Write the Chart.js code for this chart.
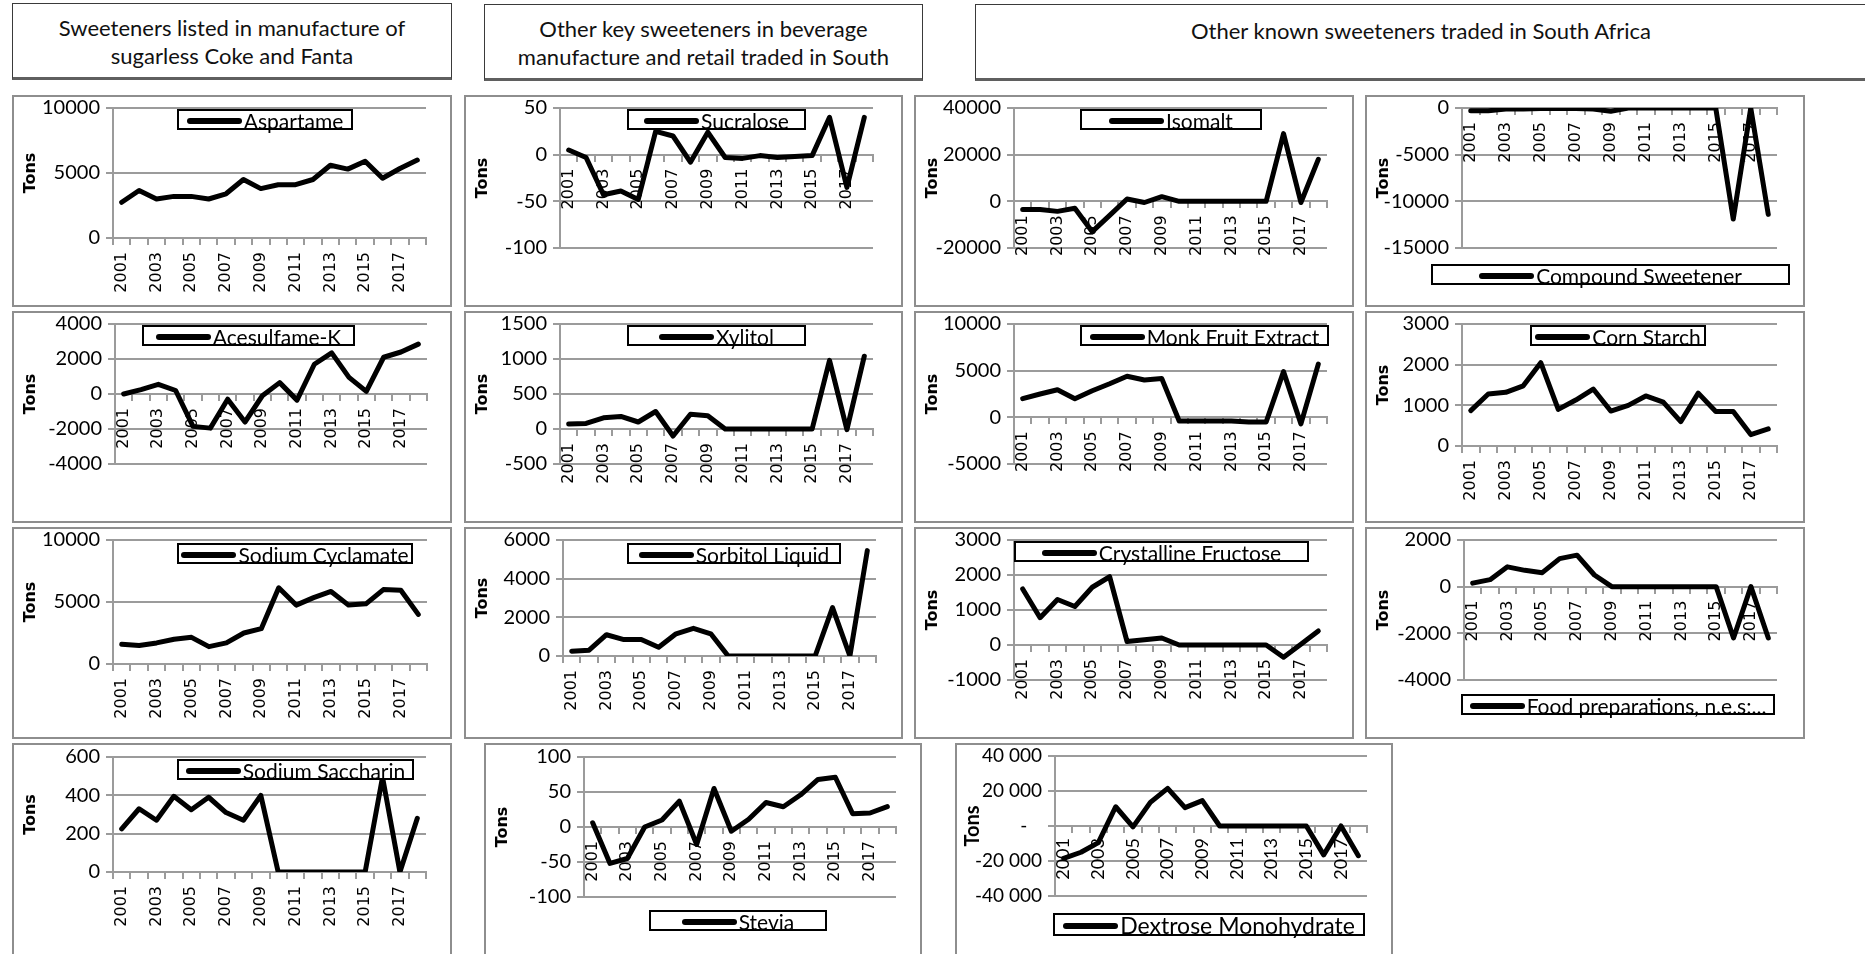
<!DOCTYPE html>
<html>
<head>
<meta charset="utf-8">
<script src="https://cdn.jsdelivr.net/npm/chart.js@4.4.1/dist/chart.umd.min.js"></script>
<style>
  html, body { margin: 0; padding: 0; background: #fff; }
  body { position: relative; width: 1865px; height: 954px; overflow: hidden; font-family: Lato, "Open Sans", sans-serif; }
  .hdr { position: absolute; box-sizing: border-box; background: #fff; border: 1.5px solid #3a3a3a; border-bottom: 3px solid #5f5f5f;
         text-align: center; font: 22px Lato, sans-serif; color: #111; line-height: 28px; padding-top: 10px; white-space: nowrap; overflow: hidden; }
  .panel { position: absolute; }
  .panel canvas { position: absolute; left: 0; top: 0; }
  .frame { position: absolute; box-sizing: border-box; border: 2px solid #8e8e8e; pointer-events: none; }
  .lg { position: absolute; box-sizing: border-box; border: 2px solid #000; background: #fff; display: flex; align-items: center;
        justify-content: center; font: 21px Lato, sans-serif; color: #000; white-space: nowrap; line-height: 17px; }
  .lg.big { font-size: 23px; }
  .lg i { display: inline-block; width: 55px; height: 6px; background: #000; border-radius: 3px; margin: 3px 2px 0 0; flex: none; }
  .lg span { position: relative; top: 1px; }
</style>
</head>
<body>
<div class="hdr" style="left:12px;top:3px;width:440px;height:77px">Sweeteners listed in manufacture of<br>sugarless Coke and Fanta</div>
<div class="hdr" style="left:484px;top:4px;width:439px;height:77px">Other key sweeteners in beverage<br>manufacture and retail traded in South</div>
<div class="hdr" style="left:975px;top:4px;width:892px;height:77px;padding-top:12px">Other known sweeteners traded in South Africa</div>

<script>
// Trade balance per sweetener, 2001-2018, in tons
const YEARS = ['2001','2002','2003','2004','2005','2006','2007','2008','2009',
               '2010','2011','2012','2013','2014','2015','2016','2017','2018'];

const ASPARTAME  = [2750, 3650, 3000, 3200, 3200, 3000, 3400, 4500, 3800, 4100, 4100, 4500, 5600, 5300, 5900, 4600, 5350, 6000];
const SUCRALOSE  = [5, -3, -43, -39, -48, 25, 20, -8, 24, -3, -4, -1, -3, -2, -1, 40, -35, 40];
const ISOMALT    = [-3500, -3500, -4300, -3000, -13000, -6000, 1000, -500, 2000, 0, 0, 0, 0, 0, 0, 29000, -500, 18000];
const COMPOUND   = [-300, -300, -100, -100, -50, -50, -50, -100, -350, 0, 0, 0, 0, 0, 0, -11900, 0, -11400];
const ACESULFAME = [0, 250, 550, 200, -1850, -1950, -300, -1600, -100, 650, -350, 1700, 2350, 950, 150, 2100, 2400, 2850];
const XYLITOL    = [70, 80, 160, 180, 100, 250, -100, 210, 190, 0, 0, 0, 0, 0, 0, 980, -10, 1040];
const MONK_FRUIT = [2000, 2500, 2950, 2000, 2850, 3600, 4400, 4000, 4150, -400, -400, -400, -400, -500, -500, 4900, -700, 5700];
const CORN_STARCH= [870, 1280, 1320, 1480, 2050, 900, 1130, 1400, 860, 1000, 1230, 1080, 600, 1300, 850, 850, 280, 420];
const CYCLAMATE  = [1600, 1500, 1700, 2000, 2150, 1400, 1700, 2500, 2850, 6150, 4750, 5350, 5850, 4750, 4850, 6000, 5950, 4000];
const SORBITOL   = [250, 300, 1100, 850, 850, 450, 1150, 1430, 1150, 0, 0, 0, 0, 0, 0, 2500, 0, 5450];
const FRUCTOSE   = [1600, 780, 1300, 1100, 1650, 1950, 100, 150, 200, 0, 0, 0, 0, 0, 0, -350, 20, 400];
const FOOD_PREP  = [150, 300, 850, 700, 600, 1200, 1350, 500, 0, 0, 0, 0, 0, 0, 0, -2200, 0, -2200];
const SACCHARIN  = [225, 330, 270, 395, 325, 390, 310, 270, 400, 0, 0, 0, 0, 0, 0, 495, 0, 280];
const STEVIA     = [6, -52, -45, 0, 10, 37, -25, 55, -6, 11, 35, 29, 46, 68, 71, 19, 20, 29];
const DEXTROSE   = [-18500, -15000, -9500, 11000, -500, 13500, 21500, 10500, 14500, 0, 0, 0, 0, 0, 0, -16500, 0, -17000];

// Value-axis tick marks for each panel
const TICKS_ASPARTAME  = [0, 5000, 10000];
const TICKS_SUCRALOSE  = [-100, -50, 0, 50];
const TICKS_ISOMALT    = [-20000, 0, 20000, 40000];
const TICKS_COMPOUND   = [-15000, -10000, -5000, 0];
const TICKS_ACESULFAME = [-4000, -2000, 0, 2000, 4000];
const TICKS_XYLITOL    = [-500, 0, 500, 1000, 1500];
const TICKS_MONK       = [-5000, 0, 5000, 10000];
const TICKS_CORN       = [0, 1000, 2000, 3000];
const TICKS_CYCLAMATE  = [0, 5000, 10000];
const TICKS_SORBITOL   = [0, 2000, 4000, 6000];
const TICKS_FRUCTOSE   = [-1000, 0, 1000, 2000, 3000];
const TICKS_FOOD       = [-4000, -2000, 0, 2000];
const TICKS_SACCHARIN  = [0, 200, 400, 600];
const TICKS_STEVIA     = [-100, -50, 0, 50, 100];
const TICKS_DEXTROSE   = [-40000, -20000, 0, 20000, 40000];

// Panel geometry on the page: frame [x, y, w, h], plot area [left, top, right, bottom], legend [x, y, w, h]
const PANELS = [
  { name: 'Aspartame',          data: ASPARTAME,   ticks: TICKS_ASPARTAME,  box: [12, 95, 440, 212],   plot: [113, 108, 426, 238],   legend: [177, 109, 176, 21] },
  { name: 'Sucralose',          data: SUCRALOSE,   ticks: TICKS_SUCRALOSE,  box: [464, 95, 439, 212],  plot: [560, 108, 873, 248],   legend: [627, 109, 179, 21] },
  { name: 'Isomalt',            data: ISOMALT,     ticks: TICKS_ISOMALT,    box: [914, 95, 440, 212],  plot: [1014, 108, 1327, 248], legend: [1080, 109, 182, 21] },
  { name: 'Compound Sweetener', data: COMPOUND,    ticks: TICKS_COMPOUND,   box: [1365, 95, 440, 212], plot: [1462, 108, 1777, 248], legend: [1431, 264, 359, 21] },
  { name: 'Acesulfame-K',       data: ACESULFAME,  ticks: TICKS_ACESULFAME, box: [12, 311, 440, 212],  plot: [115, 324, 427, 464],   legend: [142, 325, 213, 21] },
  { name: 'Xylitol',            data: XYLITOL,     ticks: TICKS_XYLITOL,    box: [464, 311, 439, 212], plot: [560, 324, 873, 464],   legend: [627, 325, 179, 21] },
  { name: 'Monk Fruit Extract', data: MONK_FRUIT,  ticks: TICKS_MONK,       box: [914, 311, 440, 212], plot: [1014, 324, 1327, 464], legend: [1080, 325, 249, 21] },
  { name: 'Corn Starch',        data: CORN_STARCH, ticks: TICKS_CORN,       box: [1365, 311, 440, 212],plot: [1462, 324, 1777, 446], legend: [1530, 325, 176, 21] },
  { name: 'Sodium Cyclamate',   data: CYCLAMATE,   ticks: TICKS_CYCLAMATE,  box: [12, 527, 440, 212],  plot: [113, 540, 427, 664],   legend: [177, 543, 236, 21] },
  { name: 'Sorbitol Liquid',    data: SORBITOL,    ticks: TICKS_SORBITOL,   box: [464, 527, 439, 212], plot: [563, 540, 876, 656],   legend: [627, 543, 214, 21] },
  { name: 'Crystalline Fructose', data: FRUCTOSE,  ticks: TICKS_FRUCTOSE,   box: [914, 527, 440, 212], plot: [1014, 540, 1327, 680], legend: [1014, 541, 295, 21] },
  { name: 'Food preparations, n.e.s:...', data: FOOD_PREP, ticks: TICKS_FOOD, box: [1365, 527, 440, 212], plot: [1464, 540, 1777, 680], legend: [1461, 694, 314, 21] },
  { name: 'Sodium Saccharin',   data: SACCHARIN,   ticks: TICKS_SACCHARIN,  box: [12, 743, 440, 230],  plot: [113, 757, 426, 872],   legend: [177, 759, 237, 21] },
  { name: 'Stevia',             data: STEVIA,      ticks: TICKS_STEVIA,     box: [484, 743, 438, 230], plot: [584, 757, 896, 897],   legend: [649, 910, 178, 21] },
  { name: 'Dextrose Monohydrate', data: DEXTROSE,  ticks: TICKS_DEXTROSE,   box: [955, 743, 438, 230], plot: [1055, 756, 1367, 896], legend: [1053, 913, 312, 23], spaced: true }
];

const GRID = '#9b9b9b';

function plainLabel(v) { return String(v); }
function spacedLabel(v) {
  if (v === 0) return '-   ';
  const s = String(Math.abs(v)).replace(/\B(?=(\d{3})+(?!\d))/g, ' ');
  return (v < 0 ? '-' : '') + s;
}

function buildPanel(p) {
  const [bx, by, bw, bh] = p.box;
  const [pl, pt, pr, pb] = p.plot;

  const wrap = document.createElement('div');
  wrap.className = 'panel';
  wrap.style.cssText = `left:${bx}px;top:${by}px;width:${bw}px;height:${bh}px`;
  const canvas = document.createElement('canvas');
  canvas.width = bw; canvas.height = bh;
  canvas.style.width = bw + 'px'; canvas.style.height = bh + 'px';
  wrap.appendChild(canvas);
  document.body.appendChild(wrap);

  const frame = document.createElement('div');
  frame.className = 'frame';
  frame.style.cssText = `left:${bx}px;top:${by}px;width:${bw}px;height:${bh}px`;
  document.body.appendChild(frame);

  const yWidth = pl - bx;
  const alt = !!p.spaced;
  const ticks = p.ticks;

  new Chart(canvas, {
    type: 'line',
    data: {
      labels: YEARS,
      datasets: [{
        label: p.name,
        data: p.data,
        borderColor: '#000',
        borderWidth: 5,
        pointRadius: 0,
        tension: 0,
        fill: false,
        borderJoinStyle: 'round',
        borderCapStyle: 'round'
      }]
    },
    options: {
      responsive: false,
      animation: false,
      devicePixelRatio: 1,
      // the category axis sits on the zero line, so the space under the plot is kept free by padding
      layout: { padding: { left: 0, top: pt - by, right: bx + bw - pr, bottom: by + bh - pb } },
      plugins: { legend: { display: false }, tooltip: { enabled: false } },
      scales: {
        x: {
          type: 'category',
          position: { y: 0 },
          offset: true,
          afterFit: s => { s.height = 0; s.paddingLeft = 0; s.paddingRight = 0; },
          grid: { offset: true, drawOnChartArea: false, drawTicks: true, tickLength: 6, color: GRID, lineWidth: 2 },
          border: { display: true, color: GRID, width: 2 },
          ticks: {
            autoSkip: false, minRotation: 90, maxRotation: 90, padding: alt ? 6 : 8,
            color: '#000',
            font: alt ? { family: 'Lato', size: 18 } : { family: 'DejaVu Sans', size: 16 },
            callback: function (v, i) { return i % 2 === 0 ? this.getLabelForValue(v) : ''; }
          }
        },
        y: {
          min: ticks[0],
          max: ticks[ticks.length - 1],
          afterBuildTicks: s => { s.ticks = ticks.map(v => ({ value: v })); },
          afterFit: s => { s.width = yWidth; s.paddingTop = 0; s.paddingBottom = 0; },
          grid: { color: GRID, lineWidth: 2, drawTicks: true, tickLength: 7 },
          border: { display: true, color: GRID, width: 2 },
          ticks: {
            padding: 6, color: '#000',
            font: { family: 'Lato', size: alt ? 19 : 20 },
            callback: v => alt ? spacedLabel(v) : plainLabel(v)
          },
          title: {
            display: true, text: 'Tons', color: '#000',
            font: alt ? { family: 'Lato', size: 20, weight: 'bold' } : { family: 'DejaVu Sans', size: 16, weight: 'bold' },
            padding: { top: alt ? 6 : 9, bottom: 0 }
          }
        }
      }
    }
  });

  const [lx, ly, lw, lh] = p.legend;
  const lg = document.createElement('div');
  lg.className = alt ? 'lg big' : 'lg';
  lg.style.cssText = `left:${lx}px;top:${ly}px;width:${lw}px;height:${lh}px`;
  const mark = document.createElement('i');
  const txt = document.createElement('span');
  txt.textContent = p.name;
  lg.appendChild(mark);
  lg.appendChild(txt);
  document.body.appendChild(lg);
}

PANELS.forEach(buildPanel);
</script>
</body>
</html>
